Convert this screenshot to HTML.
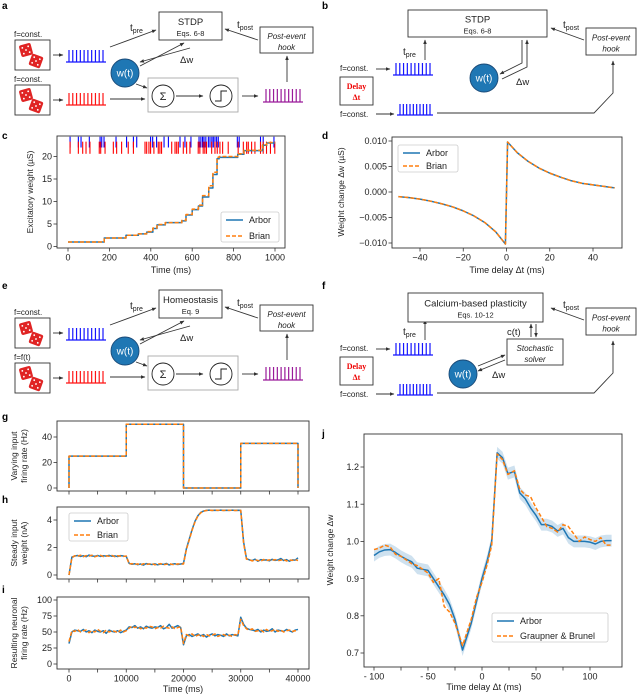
<!DOCTYPE html>
<html><head><meta charset="utf-8"><style>
html,body{margin:0;padding:0;background:#fff}
svg{display:block;font-family:"Liberation Sans","DejaVu Sans",sans-serif}
</style></head><body>
<svg id="fig" width="640" height="695" viewBox="0 0 640 695" xmlns="http://www.w3.org/2000/svg">
<defs><marker id="ah" viewBox="0 0 10 10" refX="9" refY="5" markerWidth="5" markerHeight="5" orient="auto-start-reverse"><path d="M0,1 L10,5 L0,9 z" fill="#333"/></marker></defs>
</svg>
<script>
// ---------- data ----------
const cWeightT = [0,175,280,340,380,410,430,470,550,570,600,630,650,680,700,720,730,820,850,940,960,1000];
const cWeightV = [1,1.9,2.5,2.8,3.2,4.0,4.8,5.3,5.7,7.0,8.2,9.0,11,13,16,19.5,19.8,20.5,21.3,22.5,23,23];
const cBrianV  = [1,1.9,2.5,2.8,3.3,4.1,4.9,5.3,5.8,7.1,8.3,9.2,11.3,13.5,16.5,19.8,20.0,20.6,21.4,22.6,23.1,23.1];
const cPreSpikes = [10,50,63,103,155,163,174,232,283,316,332,399,409,428,464,485,541,565,594,633,642,650,657,666,678,686,695,702,710,718,726,818,827,930,943,995];
const cPostSpikes = [10,50,71,87,106,151,158,179,219,235,259,291,316,372,380,391,399,415,436,444,452,501,517,525,533,557,573,589,629,637,653,661,669,694,710,721,734,747,774,822,847,863,871,887,903,930,943,959,978,999];
const dDelay = [-50,-45,-40,-35,-30,-25,-20,-15,-10,-5,-0.5,0.5,5,10,15,20,25,30,35,40,45,50];
const dChange = [-0.0009,-0.0011,-0.0014,-0.0018,-0.0023,-0.0029,-0.0037,-0.0047,-0.006,-0.0078,-0.0102,0.0098,0.0077,0.006,0.0047,0.0037,0.0029,0.0022,0.0017,0.0014,0.0011,0.0008];
const gTimes = [0,0,10000,10000,20000,20000,30000,30000,40000,40000];
const gRate = [0,25,25,50,50,0,0,35,35,0];
const hiStep = 500;
const hArbor = [0,1.3,1.38,1.42,1.35,1.4,1.33,1.45,1.38,1.36,1.42,1.35,1.4,1.37,1.43,1.36,1.39,1.34,1.41,1.38,1.35,
 0.85,0.78,0.82,0.75,0.8,0.72,0.83,0.79,0.76,0.81,0.74,0.8,0.77,0.84,0.73,0.79,0.82,0.76,0.8,0.85,
 1.9,2.6,3.3,3.9,4.3,4.55,4.65,4.7,4.72,4.7,4.71,4.7,4.72,4.7,4.71,4.7,4.72,4.7,4.71,4.7,
 2.4,1.2,1.1,1.05,1.15,1.0,1.12,1.08,1.1,1.03,1.14,1.06,1.1,1.2,1.05,1.12,1.0,1.1,1.08,1.25];
const hBrian = [0,1.25,1.4,1.36,1.44,1.33,1.41,1.37,1.44,1.32,1.39,1.43,1.34,1.4,1.36,1.42,1.33,1.4,1.37,1.35,1.38,
 0.8,0.83,0.76,0.81,0.73,0.82,0.77,0.8,0.84,0.74,0.79,0.83,0.75,0.78,0.82,0.77,0.74,0.81,0.79,0.8,
 1.85,2.55,3.25,3.85,4.28,4.52,4.64,4.69,4.71,4.69,4.72,4.7,4.71,4.69,4.72,4.7,4.71,4.69,4.7,4.7,
 2.3,1.15,1.12,1.02,1.1,1.06,1.0,1.13,1.05,1.1,1.07,1.12,1.04,1.08,1.13,1.02,1.09,1.06,1.12,1.05];
const iArbor = [32,50,53,52,51,54,50,52,49,53,51,50,52,48,53,51,50,52,49,51,53,
 58,57,60,56,58,55,59,57,56,58,57,60,55,57,62,56,58,60,57,30,
 44,46,43,45,47,44,46,42,45,47,44,46,45,43,47,44,46,45,44,73,
 62,56,54,53,52,54,50,53,51,52,55,50,53,52,51,54,52,50,53,54];
const iBrian = [35,52,51,54,50,52,53,49,52,50,54,51,49,53,50,52,51,49,53,50,52,
 56,59,57,58,55,57,56,59,58,55,57,56,59,57,56,58,55,57,58,32,
 46,44,47,43,45,46,43,46,44,45,47,43,45,46,44,45,43,46,45,70,
 60,55,53,55,51,52,53,50,54,51,52,54,51,53,50,52,53,51,52,52];
const jDelay = [-100,-95,-90,-85,-80,-75,-70,-65,-60,-55,-50,-45,-40,-35,-30,-25,-18,-10,-5,0,5,9,14,19,24,30,35,40,45,50,55,60,65,70,75,80,85,90,95,100,105,110,115,120];
const jArbor = [0.962,0.972,0.977,0.978,0.97,0.96,0.952,0.945,0.928,0.925,0.922,0.9,0.878,0.856,0.83,0.79,0.708,0.78,0.84,0.9,0.95,1.0,1.238,1.225,1.182,1.188,1.13,1.115,1.09,1.07,1.045,1.045,1.04,1.028,1.035,1.01,1.0,1.0,1.0,0.998,0.993,1.0,1.002,1.002];
const jBrian = [0.978,0.982,0.99,0.985,0.965,0.96,0.95,0.94,0.935,0.925,0.915,0.89,0.9,0.825,0.81,0.78,0.72,0.79,0.85,0.89,0.94,0.99,1.235,1.22,1.18,1.19,1.14,1.125,1.12,1.09,1.065,1.04,1.035,1.025,1.045,1.04,1.02,1.0,1.012,1.005,1.0,1.01,0.99,0.99];
const jBand = 0.016;

// ---------- helpers ----------
const NS='http://www.w3.org/2000/svg';
const svg=document.getElementById('fig');
const BLUE='#1f77b4', ORANGE='#ff7f0e';
function el(tag,attrs,parent){const e=document.createElementNS(NS,tag);for(const k in attrs)e.setAttribute(k,attrs[k]);(parent||svg).appendChild(e);return e;}
function txt(x,y,s,attrs,parent){const t=el('text',Object.assign({x:x,y:y,'font-size':9,fill:'#222'},attrs||{}),parent);t.textContent=s;return t;}
function lin(a0,p0,a1,p1){return v=>p0+(v-a0)*(p1-p0)/(a1-a0);}
function panelLabel(x,y,s){const t=txt(x,y,s,{'font-size':10,'font-weight':'bold',fill:'#000'});

}

function axes(name,box,sx,sy,xt,xl,yt,yl,minor){
  const g=el('g',{});
  
  
  const [l,t,r,b]=box;
  const fr=el('rect',{x:l,y:t,width:r-l,height:b-t,fill:'none',stroke:'#333','stroke-width':0.9},g);
  
  
  xt.forEach((v,i)=>{
    const x=sx(v);
    const tk=el('line',{x1:x,y1:b,x2:x,y2:b+3.5,stroke:'#333','stroke-width':0.8},g);
    
    
    if(xl){const lb=txt(x,b+12.5,xl[i],{'text-anchor':'middle'},g);
      
      }
  });
  (minor||[]).forEach(v=>{
    const x=sx(v);
    const tk=el('line',{x1:x,y1:b,x2:x,y2:b+3.5,stroke:'#333','stroke-width':0.8},g);
    
    
  });
  yt.forEach((v,i)=>{
    const y=sy(v);
    const tk=el('line',{x1:l-3.5,y1:y,x2:l,y2:y,stroke:'#333','stroke-width':0.8},g);
    
    
    const lb=txt(l-5,y+3.2,yl[i],{'text-anchor':'end'},g);
    
    
  });
  return g;
}
function ylabel(name,x,y,lines){
  const t=el('text',{x:0,y:0,'font-size':8.5,fill:'#222','text-anchor':'middle',transform:`translate(${x},${y}) rotate(-90)`});
  
  
  lines.forEach((s,i)=>{const ts=el('tspan',{x:0,dy:i?10:0},t);ts.textContent=s;});
}
function xlabel(name,x,y,s){const t=txt(x,y,s,{'text-anchor':'middle','font-size':9});
  
  }
function series(name,xs,ys,sx,sy,color,dash,step){
  let d='';
  xs.forEach((v,i)=>{
    const X=sx(v),Y=sy(ys[i]);
    if(i===0)d+='M'+X+','+Y;
    else{ if(step)d+='L'+X+','+sy(ys[i-1]); d+='L'+X+','+Y;}
  });
  const p=el('path',{d:d,fill:'none',stroke:color,'stroke-width':1.5,'stroke-dasharray':dash?'4,2':'none','stroke-linejoin':'round'});
  
  
  return p;
}
function legend(name,x,y,w,h,labels){
  const g=el('g',{});
  
  
  el('rect',{x:x,y:y,width:w,height:h,rx:2,fill:'#fff',stroke:'#ccc','stroke-width':0.8},g);
  labels.forEach((s,i)=>{
    const yy=y+8+i*(h-14);
    const ln=el('line',{x1:x+5,y1:yy,x2:x+22,y2:yy,stroke:i?ORANGE:BLUE,'stroke-width':1.5,'stroke-dasharray':i?'4,2':'none'},g);
    
    
    const t=txt(x+28,yy+3,s,{'font-size':9},g);
    
    
  });
}

// ---------- diagrams ----------
function arrow(x1,y1,x2,y2,name){const a=el('line',{x1,y1,x2,y2,stroke:'#333','stroke-width':0.9,'marker-end':'url(#ah)'});
  
  return a;}
function spikes(x0,x1,base,top,color,name){
  const g=el('g',{stroke:color,'stroke-width':1.2});
  
  
  el('line',{x1:x0,y1:base,x2:x1,y2:base},g);
  for(let i=0;i<10;i++){const x=x0+3+i*(x1-x0-6)/9;el('line',{x1:x,y1:base,x2:x,y2:top},g);}
}
function box(x,y,w,h,l1,l2,opts,name){
  const g=el('g',{});
  
  
  el('rect',{x,y,width:w,height:h,fill:'#fff',stroke:'#333','stroke-width':0.9},g);
  const it=opts&&opts.italic?'italic':'normal';
  txt(x+w/2,y+h/2-(l2?1:-3),l1,{'text-anchor':'middle','font-size':(opts&&opts.s1)||9.5,'font-style':it},g);
  if(l2)txt(x+w/2,y+h/2+10,l2,{'text-anchor':'middle','font-size':(opts&&opts.s2)||7.5,'font-style':it},g);
}
function wcircle(cx,cy){
  const g=el('g',{});
  
  
  el('circle',{cx,cy,r:14,fill:BLUE,stroke:'#1a4a78','stroke-width':0.9},g);
  txt(cx,cy+3.5,'w(t)',{'text-anchor':'middle','font-size':10,fill:'#fff'},g);
}
function dice(x,y){
  const g=el('g',{});
  
  
  el('rect',{x,y,width:35,height:30,fill:'#fff',stroke:'#333','stroke-width':0.9},g);
  [[x+5,y+4,-15],[x+15,y+15,20]].forEach(([dx,dy,rot])=>{
    el('rect',{x:dx,y:dy,width:12,height:12,rx:2,fill:'#e02424',transform:`rotate(${rot} ${dx+6} ${dy+6})`},g);
    [[3,3],[9,3],[6,6],[3,9],[9,9]].forEach(([px,py])=>el('circle',{cx:dx+px,cy:dy+py,r:0.9,fill:'#fff',transform:`rotate(${rot} ${dx+6} ${dy+6})`},g));
  });
}
function sub(x,y,main,s,name){
  const t=el('text',{x,y,'font-size':10,fill:'#222'});
  
  
  t.textContent=main;
  const ts=el('tspan',{'font-size':7,dy:2},t);ts.textContent=s;
}
function diagramA(oy,title,eq,lbl2){
  txt(14,oy+37,'f=const.',{'font-size':8});
  dice(15,oy+40);
  txt(14,oy+82,lbl2,{'font-size':8});
  dice(15,oy+85);
  arrow(53,oy+55,63,oy+55);
  arrow(53,oy+100,63,oy+100);
  spikes(66,106,oy+62,oy+50,'#1515ff','pre-spike-train');
  spikes(66,106,oy+105,oy+93,'#ff1515','input-spike-train');
  arrow(110,oy+47,156,oy+30);
  sub(130,oy+31,'t','pre','t-pre-label');
  box(159,oy+12,63,28,title,eq,{},'plasticity-box');
  box(260,oy+27,53,26,'Post-event','hook',{italic:true,s1:8,s2:8},'post-event-hook-box');
  arrow(258,oy+40,225,oy+29);
  sub(237,oy+28,'t','post','t-post-label');
  arrow(287,oy+82,287,oy+56);
  arrow(140,oy+66,184,oy+43);
  arrow(190,oy+48,140,oy+62);
  txt(180,oy+63,'Δw',{'font-size':9.5});
  const gb=el('rect',{x:148,y:oy+78,width:90,height:34,fill:'none',stroke:'#aaa','stroke-width':0.9});
  
  
  arrow(110,oy+99,145,oy+99);
  wcircle(125,oy+73);
  arrow(136,oy+84,147,oy+88);
  el('circle',{cx:163,cy:oy+96,r:11,fill:'#fff',stroke:'#222','stroke-width':0.9});
  txt(163,oy+100,'Σ',{'text-anchor':'middle','font-size':11});
  arrow(176,oy+96,203,oy+96);
  el('circle',{cx:221,cy:oy+96,r:11,fill:'#fff',stroke:'#222','stroke-width':0.9});
  el('path',{d:`M215,${oy+101} L221,${oy+101} L221,${oy+91} L227,${oy+91}`,fill:'none',stroke:'#222','stroke-width':1});
  arrow(242,oy+96,258,oy+96);
  spikes(263,303,oy+102,oy+89,'#9a1a9a','output-spike-train');
}
function diagramB(oy,kind){
  txt(340,oy+71,'f=const.',{'font-size':8});
  arrow(376,oy+69,390,oy+69);
  spikes(393,433,oy+75,oy+63,'#1515ff','pre-spike-train');
  const db=el('g',{});
  
  
  el('rect',{x:340,y:oy+77,width:33,height:28,fill:'#fff',stroke:'#333','stroke-width':0.9},db);
  txt(356.5,oy+89,'Delay',{'text-anchor':'middle','font-size':8,'font-weight':'bold',fill:'#e00','font-family':'Liberation Serif,serif'},db);
  txt(356.5,oy+100,'Δt',{'text-anchor':'middle','font-size':8,'font-weight':'bold',fill:'#e00','font-family':'Liberation Serif,serif'},db);
  txt(340,oy+117,'f=const.',{'font-size':8});
  arrow(376,oy+114,394,oy+114);
  spikes(397,433,oy+115,oy+104,'#1515ff','post-spike-train');
  const pl=el('path',{d:`M437,${oy+113} L594,${oy+113} L613,${oy+93} L613,${oy+61}`,fill:'none',stroke:'#333','stroke-width':0.9,'marker-end':'url(#ah)'});
  
  
  arrow(425,oy+60,425,oy+40);
  sub(403,oy+55,'t','pre','t-pre-label');
  box(586,oy+28,50,27,'Post-event','hook',{italic:true,s1:8,s2:8},'post-event-hook-box');
  arrow(584,oy+40,551,oy+28);
  sub(563,oy+28,'t','post','t-post-label');
  if(kind==='b'){
    box(408,oy+10,139,27,'STDP','Eqs. 6-8',{},'stdp-box');
    wcircle(484,oy+78);
    el('path',{d:`M522,${oy+40} L522,${oy+63} L500,${oy+74}`,fill:'none',stroke:'#333','stroke-width':0.9,'marker-end':'url(#ah)'});
    el('path',{d:`M502,${oy+79} L527,${oy+67} L527,${oy+40}`,fill:'none',stroke:'#333','stroke-width':0.9,'marker-end':'url(#ah)'});
    txt(516,oy+85,'Δw',{'font-size':9.5});
  } else {
    box(408,oy+13,135,29,'Calcium-based plasticity','Eqs. 10-12',{s1:9.5},'calcium-plasticity-box');
    box(507,oy+59,56,26,'Stochastic','solver',{italic:true,s1:8,s2:8},'stochastic-solver-box');
    txt(507,oy+55,'c(t)',{'font-size':9.5});
    arrow(531,oy+57,531,oy+44);
    arrow(536,oy+44,536,oy+57);
    wcircle(463,oy+94);
    arrow(478,oy+86,505,oy+75);
    arrow(505,oy+80,478,oy+91);
    txt(492,oy+98,'Δw',{'font-size':9.5});
  }
}
panelLabel(2,9,'a'); diagramA(0,'STDP','Eqs. 6-8','f=const.');
panelLabel(322,9,'b'); diagramB(0,'b');
panelLabel(2,289,'e'); diagramA(278,'Homeostasis','Eq. 9','f=f(t)');
panelLabel(322,289,'f'); diagramB(280,'f');

// ---------- panel c ----------
panelLabel(2,139,'c');
{
 const sx=lin(0,68,1000,275), sy=lin(0,246.5,20,156.5);
 axes('weight-plot',[57,136,285,248],sx,sy,[0,200,400,600,800,1000],['0','200','400','600','800','1000'],[0,5,10,15,20],['0','5','10','15','20']);
 cPreSpikes.forEach(t=>{const l=el('line',{x1:sx(t),x2:sx(t),y1:sy(24.4),y2:sy(22),stroke:'#0000ff','stroke-width':1.1});
  
  });
 cPostSpikes.forEach(t=>{const l=el('line',{x1:sx(t),x2:sx(t),y1:sy(23.3),y2:sy(20.6),stroke:'#ff0000','stroke-width':1.1});
  
  });
 series('weight-arbor',cWeightT,cWeightV,sx,sy,BLUE,false,true);
 series('weight-brian',cWeightT,cBrianV,sx,sy,ORANGE,true,true);
 legend('weight-legend',221,212,58,30,['Arbor','Brian']);
 ylabel('weight-y-title',33,192,['Excitatory weight (µS)']);
 xlabel('weight-x-title',171,273,'Time (ms)');
}
// ---------- panel d ----------
panelLabel(322,139,'d');
{
 const sx=lin(-40,420,40,593), sy=lin(0.01,141,-0.01,243);
 axes('stdp-plot',[392,137,622,248],sx,sy,[-40,-20,0,20,40],['−40','−20','0','20','40'],[-0.01,-0.005,0,0.005,0.01],['−0.010','−0.005','0.000','0.005','0.010']);
 series('stdp-arbor',dDelay,dChange,sx,sy,BLUE,false,false);
 series('stdp-brian',dDelay,dChange,sx,sy,ORANGE,true,false);
 legend('stdp-legend',398,145,60,27,['Arbor','Brian']);
 ylabel('stdp-y-title',344,192,['Weight change Δw (µS)']);
 xlabel('stdp-x-title',507,273,'Time delay Δt (ms)');
}
// ---------- panels g,h,i ----------
const sxT=lin(0,69,40000,298);
const minorT=[5000,15000,25000,35000];
panelLabel(2,420,'g');
{
 const sy=lin(0,488,40,437);
 axes('input-rate-plot',[57,421,309,491],sxT,sy,[0,10000,20000,30000,40000],null,[0,20,40],['0','20','40'],minorT);
 series('input-rate-arbor',gTimes,gRate,sxT,sy,BLUE,false,false);
 series('input-rate-brian',gTimes,gRate,sxT,sy,ORANGE,true,false);
 ylabel('input-rate-y-title',17,456,['Varying input','firing rate (Hz)']);
}
panelLabel(2,503,'h');
{
 const sy=lin(0,575,4,520);
 axes('input-weight-plot',[57,507,309,579],sxT,sy,[0,10000,20000,30000,40000],null,[0,2,4],['0','2','4'],minorT);
 const ts=hArbor.map((_,i)=>i*hiStep);
 series('input-weight-arbor',ts,hArbor,sxT,sy,BLUE,false,false);
 series('input-weight-brian',ts,hBrian,sxT,sy,ORANGE,true,false);
 legend('input-weight-legend',69,513,59,28,['Arbor','Brian']);
 ylabel('input-weight-y-title',17,543,['Steady input','weight (nA)']);
}
panelLabel(2,593,'i');
{
 const sy=lin(0,664,100,600);
 axes('output-rate-plot',[57,597,309,669],sxT,sy,[0,10000,20000,30000,40000],['0','10000','20000','30000','40000'],[0,25,50,75,100],['0','25','50','75','100'],minorT);
 const ts=iArbor.map((_,i)=>i*hiStep);
 series('output-rate-arbor',ts,iArbor,sxT,sy,BLUE,false,false);
 series('output-rate-brian',ts,iBrian,sxT,sy,ORANGE,true,false);
 ylabel('output-rate-y-title',17,633,['Resulting neuronal','firing rate (Hz)']);
 xlabel('time-x-title',183,692,'Time (ms)');
}
// ---------- panel j ----------
panelLabel(322,437,'j');
{
 const sx=lin(-100,374,100,590), sy=lin(1.2,467,0.7,653);
 axes('calcium-plot',[364,434,622,667],sx,sy,[-100,-50,0,50,100],['- 100','- 50','0','50','100'],[0.7,0.8,0.9,1.0,1.1,1.2],['0.7','0.8','0.9','1.0','1.1','1.2'],[-75,-25,25,75]);
 let d='';
 jDelay.forEach((v,i)=>{d+=(i?'L':'M')+sx(v)+','+sy(jArbor[i]+jBand);});
 for(let i=jDelay.length-1;i>=0;i--)d+='L'+sx(jDelay[i])+','+sy(jArbor[i]-jBand);
 const band=el('path',{d:d+'Z',fill:BLUE,'fill-opacity':0.22,stroke:'none'});
 
 
 series('calcium-arbor',jDelay,jArbor,sx,sy,BLUE,false,false);
 series('calcium-graupner-brunel',jDelay,jBrian,sx,sy,ORANGE,true,false);
 legend('calcium-legend',492,613,116,29,['Arbor','Graupner & Brunel']);
 ylabel('calcium-y-title',333,550,['Weight change Δw']);
 xlabel('calcium-x-title',484,690,'Time delay Δt (ms)');
}
</script>
</body></html>
